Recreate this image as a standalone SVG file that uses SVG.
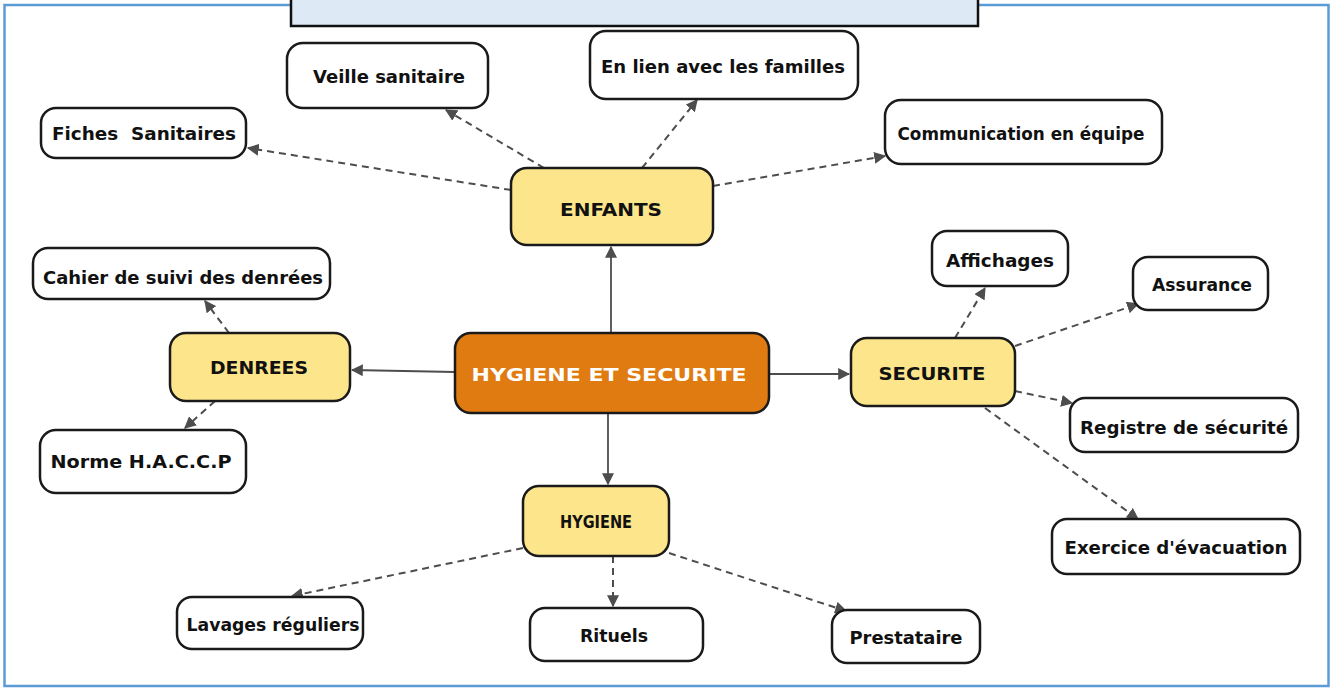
<svg xmlns="http://www.w3.org/2000/svg" width="1332" height="688" viewBox="0 0 1332 688">
<defs>
<marker id="ah" viewBox="0 0 10 10" refX="9" refY="5" markerWidth="12" markerHeight="12" markerUnits="userSpaceOnUse" orient="auto">
<path d="M0,0 L10,5 L0,10 z" fill="#4d4d4d"/>
</marker>
<style>
.leaf{fill:#ffffff;stroke:#1a1a1a;stroke-width:2.5}
.mid{fill:#fce58a;stroke:#1a1a1a;stroke-width:2.5}
.root{fill:#e07b12;stroke:#1a1a1a;stroke-width:2.5}
.t{font-family:"DejaVu Sans","Liberation Sans",sans-serif;font-weight:bold;font-size:17px;fill:#111;text-anchor:middle;dominant-baseline:central}
.tw{fill:#ffffff}
.solid{stroke:#4d4d4d;stroke-width:1.8;fill:none;marker-end:url(#ah)}
.dash{stroke:#4d4d4d;stroke-width:2;fill:none;stroke-dasharray:7,5;marker-end:url(#ah)}
</style>
</defs>
<rect x="0" y="0" width="1332" height="688" fill="#ffffff"/>
<rect x="4.5" y="5" width="1324" height="681" fill="none" stroke="#5b9bd5" stroke-width="2.5"/>
<rect id="title" x="291" y="-4" width="687" height="30" fill="#dde9f5" stroke="#111" stroke-width="2.5"/>

<g id="connectors">
<line class="solid" x1="611" y1="333" x2="611" y2="247"/>
<line class="solid" x1="455" y1="372" x2="352" y2="370"/>
<line class="solid" x1="769" y1="374" x2="849" y2="374"/>
<line class="solid" x1="608" y1="413" x2="608" y2="484"/>
<line class="dash" x1="544" y1="168" x2="446" y2="110"/>
<line class="dash" x1="642" y1="168" x2="697" y2="100"/>
<line class="dash" x1="511" y1="190" x2="248" y2="148"/>
<line class="dash" x1="713" y1="186" x2="885" y2="156"/>
<line class="dash" x1="229" y1="333" x2="205" y2="301"/>
<line class="dash" x1="215" y1="401" x2="185" y2="428"/>
<line class="dash" x1="955" y1="338" x2="985" y2="288"/>
<line class="dash" x1="1015" y1="346" x2="1138" y2="304"/>
<line class="dash" x1="1015" y1="391" x2="1072" y2="403"/>
<line class="dash" x1="985" y1="408" x2="1138" y2="519"/>
<line class="dash" x1="523" y1="548" x2="292" y2="596"/>
<line class="dash" x1="613" y1="556" x2="613" y2="606"/>
<line class="dash" x1="669" y1="553" x2="846" y2="611"/>
</g>

<g id="root"><rect class="root" x="455" y="333" width="314" height="80" rx="16"/><text class="t tw" x="609" y="375" textLength="275" lengthAdjust="spacingAndGlyphs">HYGIENE ET SECURITE</text></g>
<g id="enfants"><rect class="mid" x="511" y="168" width="202" height="77" rx="16"/><text class="t" x="611" y="210" textLength="102" lengthAdjust="spacingAndGlyphs">ENFANTS</text></g>
<g id="denrees"><rect class="mid" x="170" y="333" width="180" height="68" rx="16"/><text class="t" x="259" y="368" textLength="98" lengthAdjust="spacingAndGlyphs">DENREES</text></g>
<g id="securite"><rect class="mid" x="851" y="338" width="164" height="68" rx="16"/><text class="t" x="932" y="374" textLength="107" lengthAdjust="spacingAndGlyphs">SECURITE</text></g>
<g id="hygiene"><rect class="mid" x="523" y="486" width="146" height="70" rx="16"/><text class="t" x="596" y="522" textLength="72" lengthAdjust="spacingAndGlyphs">HYGIENE</text></g>

<g id="veille"><rect class="leaf" x="287" y="43" width="201" height="65" rx="16"/><text class="t" x="389" y="77" textLength="152" lengthAdjust="spacingAndGlyphs">Veille sanitaire</text></g>
<g id="familles"><rect class="leaf" x="590" y="31" width="268" height="68" rx="16"/><text class="t" x="723" y="67" textLength="244" lengthAdjust="spacingAndGlyphs">En lien avec les familles</text></g>
<g id="fiches"><rect class="leaf" x="41" y="108" width="205" height="50" rx="15"/><text class="t" x="144" y="134" textLength="184" lengthAdjust="spacingAndGlyphs" xml:space="preserve">Fiches  Sanitaires</text></g>
<g id="communication"><rect class="leaf" x="885" y="100" width="277" height="64" rx="16"/><text class="t" x="1021" y="134" textLength="247" lengthAdjust="spacingAndGlyphs">Communication en équipe</text></g>
<g id="cahier"><rect class="leaf" x="33" y="248" width="297" height="51" rx="15"/><text class="t" x="183" y="278" textLength="280" lengthAdjust="spacingAndGlyphs">Cahier de suivi des denrées</text></g>
<g id="norme"><rect class="leaf" x="40" y="430" width="206" height="63" rx="16"/><text class="t" x="141" y="462" textLength="181" lengthAdjust="spacingAndGlyphs">Norme H.A.C.C.P</text></g>
<g id="affichages"><rect class="leaf" x="932" y="231" width="136" height="55" rx="15"/><text class="t" x="1000" y="261" textLength="108" lengthAdjust="spacingAndGlyphs">Affichages</text></g>
<g id="assurance"><rect class="leaf" x="1133" y="257" width="135" height="53" rx="15"/><text class="t" x="1202" y="285" textLength="100" lengthAdjust="spacingAndGlyphs">Assurance</text></g>
<g id="registre"><rect class="leaf" x="1070" y="398" width="228" height="54" rx="15"/><text class="t" x="1184" y="428" textLength="208" lengthAdjust="spacingAndGlyphs">Registre de sécurité</text></g>
<g id="exercice"><rect class="leaf" x="1052" y="519" width="248" height="55" rx="15"/><text class="t" x="1176" y="548" textLength="223" lengthAdjust="spacingAndGlyphs">Exercice d'évacuation</text></g>
<g id="lavages"><rect class="leaf" x="177" y="597" width="186" height="52" rx="15"/><text class="t" x="273" y="625" textLength="173" lengthAdjust="spacingAndGlyphs">Lavages réguliers</text></g>
<g id="rituels"><rect class="leaf" x="530" y="608" width="173" height="53" rx="15"/><text class="t" x="614" y="636" textLength="68" lengthAdjust="spacingAndGlyphs">Rituels</text></g>
<g id="prestataire"><rect class="leaf" x="832" y="610" width="148" height="53" rx="15"/><text class="t" x="906" y="638" textLength="113" lengthAdjust="spacingAndGlyphs">Prestataire</text></g>
</svg>
